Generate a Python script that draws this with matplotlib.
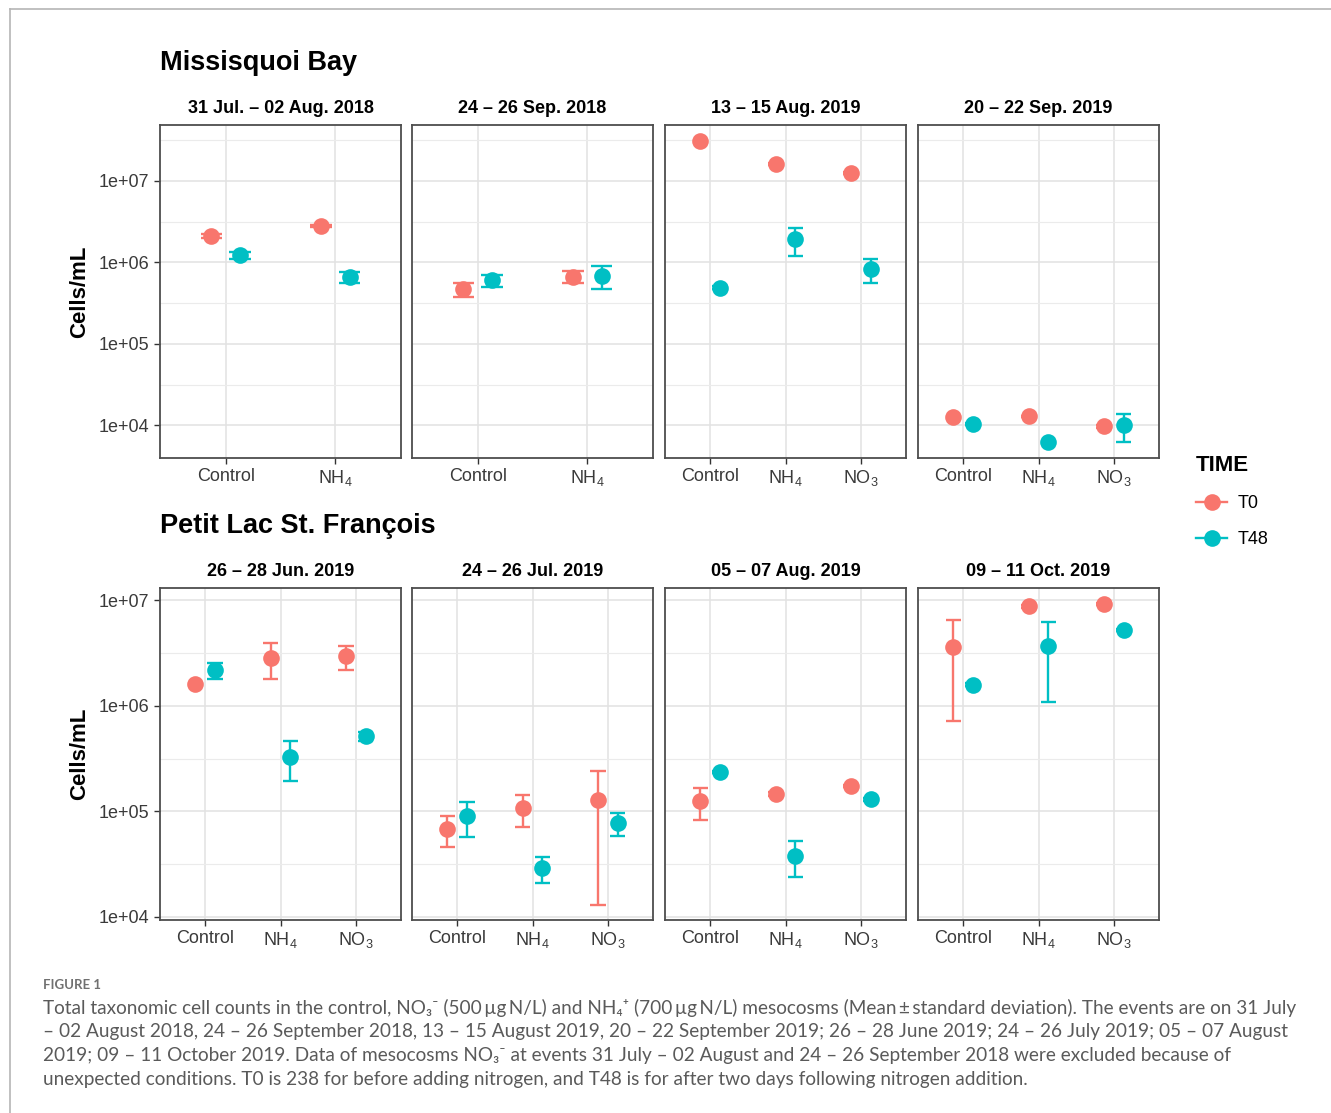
import matplotlib
matplotlib.use("Agg")
import matplotlib.pyplot as plt
from matplotlib.lines import Line2D
from matplotlib.ticker import FixedLocator, NullFormatter
import numpy as np

plt.rcParams['font.family'] = ['Liberation Sans', 'DejaVu Sans']
plt.rcParams['mathtext.fontset'] = 'custom'
plt.rcParams['mathtext.rm'] = 'Liberation Sans'
plt.rcParams['mathtext.it'] = 'Liberation Sans:italic'
plt.rcParams['mathtext.bf'] = 'Liberation Sans:bold'

T0_COL = '#F8766D'
T48_COL = '#00BFC4'

# ---- Missisquoi Bay (cells/mL, mean and sd) ----
mb_events = ["31 Jul. \u2013 02 Aug. 2018", "24 \u2013 26 Sep. 2018",
             "13 \u2013 15 Aug. 2019", "20 \u2013 22 Sep. 2019"]
mb_treatments = [["Control", "NH4"], ["Control", "NH4"],
                 ["Control", "NH4", "NO3"], ["Control", "NH4", "NO3"]]
mb_t0_mean = [[2.10e6, 2.78e6], [4.7e5, 6.7e5],
              [3.06e7, 1.62e7, 1.26e7], [1.26e4, 1.29e4, 9.7e3]]
mb_t0_sd = [[1.0e5, 1.0e5], [9.5e4, 1.05e5],
            [1.0e6, 5.0e5, 4.0e5], [300, 300, 300]]
mb_t48_mean = [[1.22e6, 6.6e5], [6.0e5, 6.8e5],
               [4.9e5, 1.93e6, 8.3e5], [1.03e4, 6.3e3, 1.0e4]]
mb_t48_sd = [[1.25e5, 1.05e5], [9.5e4, 2.15e5],
             [2.0e4, 7.2e5, 2.7e5], [300, 200, 3.8e3]]

# ---- Petit Lac St. François ----
pl_events = ["26 \u2013 28 Jun. 2019", "24 \u2013 26 Jul. 2019",
             "05 \u2013 07 Aug. 2019", "09 \u2013 11 Oct. 2019"]
pl_treatments = [["Control", "NH4", "NO3"]] * 4
pl_t0_mean = [[1.6e6, 2.84e6, 2.93e6], [6.85e4, 1.075e5, 1.27e5],
              [1.24e5, 1.46e5, 1.74e5], [3.59e6, 8.7e6, 9.16e6]]
pl_t0_sd = [[5.0e4, 1.05e6, 7.4e5], [2.25e4, 3.65e4, 1.14e5],
            [4.1e4, 5.0e3, 5.0e3], [2.88e6, 2.0e5, 2.0e5]]
pl_t48_mean = [[2.17e6, 3.3e5, 5.16e5], [8.95e4, 2.89e4, 7.7e4],
               [2.37e5, 3.8e4, 1.3e5], [1.58e6, 3.66e6, 5.2e6]]
pl_t48_sd = [[3.8e5, 1.37e5, 5.0e4], [3.25e4, 8.1e3, 1.9e4],
             [5.0e3, 1.4e4, 5.0e3], [5.0e4, 2.58e6, 1.0e5]]

tick_text = {"Control": "Control", "NH4": r"NH$_4$", "NO3": r"NO$_3$"}

caption_lines = [
    "Total taxonomic cell counts in the control, NO\u2083\u207b (500\u2009\u00b5g\u2009N/L) and NH\u2084\u207a (700\u2009\u00b5g\u2009N/L) mesocosms (Mean\u2009\u00b1\u2009standard deviation). The events are on 31 July",
    "\u2013 02 August 2018, 24 \u2013 26 September 2018, 13 \u2013 15 August 2019, 20 \u2013 22 September 2019; 26 \u2013 28 June 2019; 24 \u2013 26 July 2019; 05 \u2013 07 August",
    "2019; 09 \u2013 11 October 2019. Data of mesocosms NO\u2083\u207b at events 31 July \u2013 02 August and 24 \u2013 26 September 2018 were excluded because of",
    "unexpected conditions. T0 is 238 for before adding nitrogen, and T48 is for after two days following nitrogen addition.",
]

W, H = 1331, 1113
fig = plt.figure(figsize=(W / 100, H / 100), dpi=100)


def px_rect(x0, y0, x1, y1):
    return [x0 / W, 1 - y1 / H, (x1 - x0) / W, (y1 - y0) / H]


def row_limits(means, sds):
    lo = min(m - s for mm, ss in zip(means, sds) for m, s in zip(mm, ss))
    hi = max(m + s for mm, ss in zip(means, sds) for m, s in zip(mm, ss))
    a, b = np.log10(lo), np.log10(hi)
    pad = 0.05 * (b - a)
    return 10 ** (a - pad), 10 ** (b + pad)


panel_left = [160, 412, 665, 918]
panel_w = 241
dodge = 0.13
cap = 0.1


def draw_row(top, bottom, title, events, treatments, t0m, t0s, t48m, t48s):
    ylo, yhi = row_limits([a for a in t0m] + [b for b in t48m],
                          [a for a in t0s] + [b for b in t48s])
    fig.text(160 / W, 1 - (top - 62) / H, title, fontsize=19.5,
             fontweight='bold', ha='left', va='center')
    for i in range(4):
        x0 = panel_left[i]
        ax = fig.add_axes(px_rect(x0, top, x0 + panel_w, bottom))
        treats = treatments[i]
        n = len(treats)
        x = np.arange(1, n + 1)
        ax.set_yscale('log')
        ax.set_ylim(ylo, yhi)
        ax.set_xlim(0.4, n + 0.6)
        ax.set_yticks([1e4, 1e5, 1e6, 1e7])
        ax.set_yticklabels(["1e+04", "1e+05", "1e+06", "1e+07"])
        ax.yaxis.set_minor_locator(FixedLocator(10 ** np.arange(3.5, 8.0, 1.0)))
        ax.yaxis.set_minor_formatter(NullFormatter())
        ax.set_xticks(x)
        ax.set_xticklabels([tick_text[t] for t in treats])
        ax.set_axisbelow(True)
        ax.grid(True, which='major', color='#E2E2E2', lw=1.1)
        ax.grid(True, which='minor', axis='y', color='#EBEBEB', lw=0.8)
        ax.tick_params(which='minor', length=0)
        ax.tick_params(which='major', length=4, width=1.0, color='#333333',
                       labelsize=13, labelcolor='#3a3a3a', pad=3.5)
        if i > 0:
            ax.tick_params(axis='y', which='both', left=False, labelleft=False)
        for sp in ax.spines.values():
            sp.set_color('#4D4D4D')
            sp.set_linewidth(1.3)
        ax.set_title(events[i], fontsize=13, fontweight='bold', pad=8.5)

        for means, sds, off, col in ((t0m[i], t0s[i], -dodge, T0_COL),
                                     (t48m[i], t48s[i], dodge, T48_COL)):
            means = np.array(means)
            sds = np.array(sds)
            xs = x + off
            lo = means - sds
            hi = means + sds
            ax.vlines(xs, lo, hi, color=col, lw=1.7, zorder=3)
            ax.hlines(lo, xs - cap, xs + cap, color=col, lw=1.7, zorder=3)
            ax.hlines(hi, xs - cap, xs + cap, color=col, lw=1.7, zorder=3)
            ax.plot(xs, means, 'o', ms=12, color=col, mec='none', zorder=4)

    fig.text(80 / W, 1 - (top + bottom) / 2 / H, "Cells/mL", rotation=90,
             fontsize=16, fontweight='bold', ha='center', va='center')


draw_row(125, 458, "Missisquoi Bay", mb_events, mb_treatments,
         mb_t0_mean, mb_t0_sd, mb_t48_mean, mb_t48_sd)
draw_row(588, 920, "Petit Lac St. Fran\u00e7ois", pl_events, pl_treatments,
         pl_t0_mean, pl_t0_sd, pl_t48_mean, pl_t48_sd)

# legend for the sampling time
handles = [Line2D([], [], color=T0_COL, marker='o', ms=12, lw=1.7, mec='none'),
           Line2D([], [], color=T48_COL, marker='o', ms=12, lw=1.7, mec='none')]
leg = fig.legend(handles, ["T0", "T48"], title="TIME", loc='upper left',
                 bbox_to_anchor=(1180 / W, 1 - 439 / H), frameon=False,
                 fontsize=13, title_fontproperties={'weight': 'bold', 'size': 16},
                 handlelength=1.7, handletextpad=0.6, labelspacing=1.05,
                 alignment='left')

# page frame and caption
fig.add_artist(Line2D([10 / W, 1], [1 - 9 / H, 1 - 9 / H], transform=fig.transFigure,
                      color='#b5b5b5', lw=1.2))
fig.add_artist(Line2D([10 / W, 10 / W], [1 - 9 / H, 0], transform=fig.transFigure,
                      color='#b5b5b5', lw=1.2))
fig.text(43 / W, 1 - 985 / H, "FIGURE 1", fontsize=9.5, color='#707070',
         family=['Lato', 'DejaVu Sans'], fontweight='bold', ha='left', va='center')
for k, line in enumerate(caption_lines):
    fig.text(43 / W, 1 - (1008 + 24 * k) / H, line, fontsize=13.7, color='#5a5a5a',
             family=['Lato', 'DejaVu Sans'], ha='left', va='center')

fig.savefig("out.png", dpi=100)
